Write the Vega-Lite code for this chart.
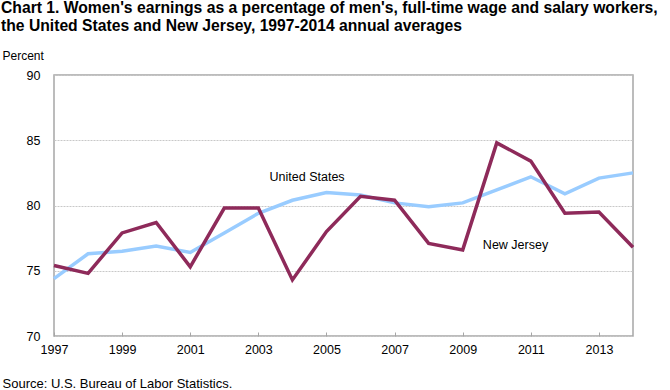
{
  "$schema": "https://vega.github.io/schema/vega-lite/v6.json",
  "width": 579,
  "height": 261,
  "autosize": {"type": "none"},
  "padding": {"left": 54, "top": 75, "right": 37, "bottom": 54},
  "background": "white",
  "config": {
    "font": "Liberation Sans",
    "view": {"stroke": "#a6a6a6", "strokeWidth": 1.5}
  },
  "title": {
    "text": ["Chart 1. Women's earnings as a percentage of men's, full-time wage and salary workers,", "the United States and New Jersey, 1997-2014 annual averages"],
    "anchor": "start",
    "frame": "group",
    "font": "Liberation Sans",
    "fontSize": 15.7,
    "fontWeight": "bold",
    "color": "#000000",
    "lineHeight": 18,
    "dx": -53,
    "dy": -10
  },
  "datasets": {
    "series": [
      {"year": 1997, "series": "United States", "value": 74.4},
      {"year": 1998, "series": "United States", "value": 76.3},
      {"year": 1999, "series": "United States", "value": 76.5},
      {"year": 2000, "series": "United States", "value": 76.9},
      {"year": 2001, "series": "United States", "value": 76.4},
      {"year": 2002, "series": "United States", "value": 77.9},
      {"year": 2003, "series": "United States", "value": 79.4},
      {"year": 2004, "series": "United States", "value": 80.4},
      {"year": 2005, "series": "United States", "value": 81.0},
      {"year": 2006, "series": "United States", "value": 80.8},
      {"year": 2007, "series": "United States", "value": 80.2},
      {"year": 2008, "series": "United States", "value": 79.9},
      {"year": 2009, "series": "United States", "value": 80.2},
      {"year": 2010, "series": "United States", "value": 81.2},
      {"year": 2011, "series": "United States", "value": 82.2},
      {"year": 2012, "series": "United States", "value": 80.9},
      {"year": 2013, "series": "United States", "value": 82.1},
      {"year": 2014, "series": "United States", "value": 82.5},
      {"year": 1997, "series": "New Jersey", "value": 75.4},
      {"year": 1998, "series": "New Jersey", "value": 74.8},
      {"year": 1999, "series": "New Jersey", "value": 77.9},
      {"year": 2000, "series": "New Jersey", "value": 78.7},
      {"year": 2001, "series": "New Jersey", "value": 75.3},
      {"year": 2002, "series": "New Jersey", "value": 79.8},
      {"year": 2003, "series": "New Jersey", "value": 79.8},
      {"year": 2004, "series": "New Jersey", "value": 74.3},
      {"year": 2005, "series": "New Jersey", "value": 78.0},
      {"year": 2006, "series": "New Jersey", "value": 80.7},
      {"year": 2007, "series": "New Jersey", "value": 80.4},
      {"year": 2008, "series": "New Jersey", "value": 77.1},
      {"year": 2009, "series": "New Jersey", "value": 76.6},
      {"year": 2010, "series": "New Jersey", "value": 84.8},
      {"year": 2011, "series": "New Jersey", "value": 83.4},
      {"year": 2012, "series": "New Jersey", "value": 79.4},
      {"year": 2013, "series": "New Jersey", "value": 79.5},
      {"year": 2014, "series": "New Jersey", "value": 76.8}
    ],
    "labels": [
      {"year": 2004.43, "value": 82.15, "label": "United States"},
      {"year": 2010.55, "value": 76.95, "label": "New Jersey"}
    ]
  },
  "layer": [
    {
      "data": {"name": "series"},
      "mark": {"type": "line", "strokeWidth": 3.5, "strokeJoin": "miter"},
      "encoding": {
        "x": {
          "field": "year", "type": "quantitative",
          "scale": {"domain": [1997, 2014], "nice": false, "zero": false},
          "axis": {
            "title": "Source:  U.S. Bureau of Labor Statistics.",
            "titleFont": "Liberation Sans",
            "titleFontSize": 13,
            "titleFontWeight": "normal",
            "titleColor": "#000000",
            "titleAnchor": "start",
            "titleAlign": "left",
            "titleBaseline": "alphabetic",
            "titleX": -52,
            "titleY": 51,
            "values": [1997,1998,1999,2000,2001,2002,2003,2004,2005,2006,2007,2008,2009,2010,2011,2012,2013,2014],
            "labelExpr": "datum.value % 2 == 1 ? datum.value : ''",
            "labelFontSize": 12.5,
            "labelColor": "#000000",
            "labelPadding": 11,
            "labelFlush": false,
            "labelOverlap": false,
            "tickSize": -4,
            "tickColor": "#a6a6a6",
            "domain": false,
            "grid": false
          }
        },
        "y": {
          "field": "value", "type": "quantitative",
          "scale": {"domain": [70, 90], "nice": false, "zero": false},
          "axis": {
            "values": [70, 75, 80, 85, 90],
            "title": "Percent",
            "titleAngle": 0,
            "titleFont": "Liberation Sans",
            "titleFontSize": 12,
            "titleFontWeight": "normal",
            "titleColor": "#000000",
            "titleAlign": "left",
            "titleBaseline": "alphabetic",
            "titleX": -52,
            "titleY": -16,
            "labelFontSize": 12.5,
            "labelColor": "#000000",
            "labelPadding": 14,
            "ticks": false,
            "domain": false,
            "grid": true,
            "gridColor": "#c8c8c8",
            "gridWidth": 1.2,
            "gridDash": [2, 1]
          }
        },
        "color": {
          "field": "series", "type": "nominal",
          "scale": {"domain": ["United States", "New Jersey"], "range": ["#99ccff", "#8e2a5a"]},
          "legend": null
        },
        "order": {"field": "year"}
      }
    },
    {
      "data": {"name": "labels"},
      "mark": {"type": "text", "fontSize": 12.5, "color": "#000000", "align": "center", "baseline": "middle"},
      "encoding": {
        "x": {"field": "year", "type": "quantitative"},
        "y": {"field": "value", "type": "quantitative"},
        "text": {"field": "label"}
      }
    }
  ]
}
